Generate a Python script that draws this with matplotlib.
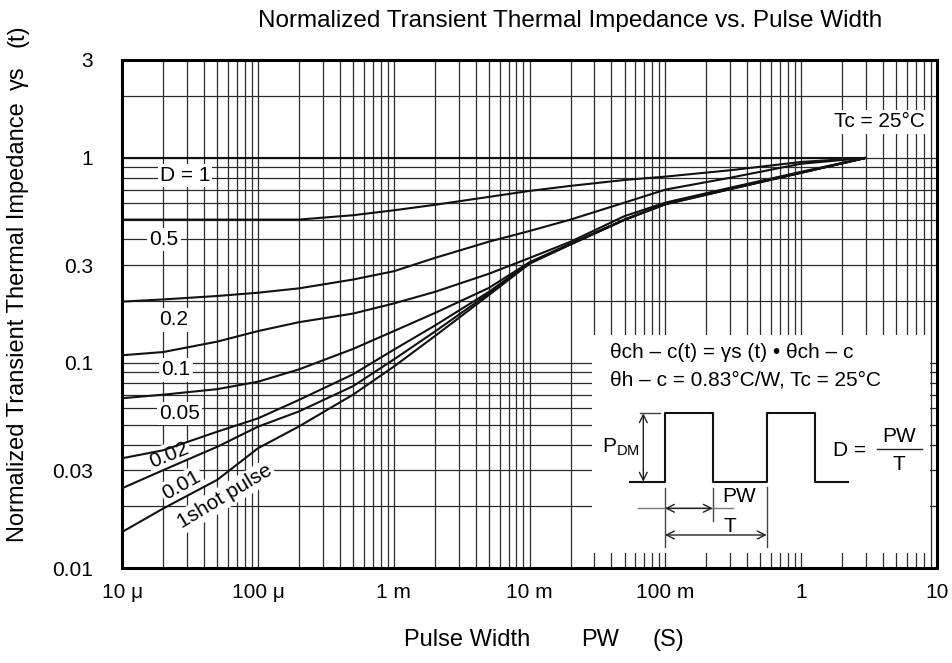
import matplotlib
matplotlib.use("Agg")
from matplotlib import pyplot as plt
from matplotlib.ticker import FixedLocator, NullFormatter

plt.rcParams['font.family'] = ['Liberation Sans', 'DejaVu Sans']
plt.rcParams['mathtext.fontset'] = 'custom'
plt.rcParams['mathtext.rm'] = 'Liberation Sans'

pulse_width = [1e-5, 2e-5, 5e-5, 1e-4, 2e-4, 5e-4, 1e-3, 2e-3, 5e-3,
               1e-2, 2e-2, 5e-2, 1e-1, 3e-1, 1, 3]

# normalized transient thermal impedance for each duty cycle
r_d1 = [1, 1, 1, 1, 1, 1, 1, 1, 1, 1, 1, 1, 1, 1, 1, 1]
r_d05 = [0.5, 0.5, 0.5, 0.5, 0.5, 0.525, 0.555, 0.59, 0.645,
         0.69, 0.73, 0.78, 0.81, 0.87, 0.955, 1.0]
r_d02 = [0.199, 0.204, 0.212, 0.22, 0.231, 0.255, 0.28, 0.325, 0.39,
         0.44, 0.50, 0.605, 0.70, 0.80, 0.936, 1.0]
r_d01 = [0.109, 0.113, 0.127, 0.143, 0.158, 0.174, 0.195, 0.222, 0.272,
         0.325, 0.39, 0.52, 0.605, 0.715, 0.855, 1.0]
r_d005 = [0.0673, 0.070, 0.0745, 0.081, 0.093, 0.117, 0.143, 0.175, 0.232,
          0.31, 0.382, 0.50, 0.60, 0.71, 0.85, 1.0]
r_d002 = [0.0343, 0.0375, 0.0462, 0.0537, 0.066, 0.088, 0.116, 0.152, 0.222,
          0.308, 0.38, 0.50, 0.597, 0.707, 0.848, 1.0]
r_d001 = [0.0245, 0.030, 0.039, 0.0489, 0.058, 0.077, 0.104, 0.142, 0.218,
          0.306, 0.379, 0.499, 0.595, 0.705, 0.846, 1.0]
r_single = [0.015, 0.0195, 0.0269, 0.0384, 0.049, 0.070, 0.096, 0.135, 0.214,
            0.305, 0.378, 0.498, 0.593, 0.703, 0.845, 1.0]

curves = [r_d1, r_d05, r_d02, r_d01, r_d005, r_d002, r_d001, r_single]

x_ticks = [1e-5, 1e-4, 1e-3, 1e-2, 1e-1, 1, 10]
x_tick_labels = ['10 \u03bc', '100 \u03bc', '1 m', '10 m', '100 m', '1', '10']
y_ticks = [0.01, 0.03, 0.1, 0.3, 1, 3]
y_tick_labels = ['0.01', '0.03', '0.1', '0.3', '1', '3']

W, H = 953, 663
fig = plt.figure(figsize=(W / 100, H / 100), dpi=100)
ax = fig.add_axes([122.3 / W, 1 - 568 / H, 814.7 / W, 508 / H])
ax.set_xscale('log')
ax.set_yscale('log')
ax.set_xlim(1e-5, 10)
ax.set_ylim(0.01, 3)

ax.xaxis.set_major_locator(FixedLocator(x_ticks))
ax.set_xticklabels(x_tick_labels)
ax.yaxis.set_major_locator(FixedLocator(y_ticks))
ax.set_yticklabels(y_tick_labels)
ax.yaxis.set_minor_locator(FixedLocator(
    [k * 10.0 ** e for e in (-2, -1, 0) for k in range(2, 10)]))
ax.xaxis.set_minor_formatter(NullFormatter())
ax.yaxis.set_minor_formatter(NullFormatter())
ax.tick_params(which='both', length=0, labelsize=15)
ax.tick_params(axis='x', pad=11)
ax.tick_params(axis='y', pad=21)
ax.grid(which='both', color='#2a2a2a', lw=0.9)
ax.set_axisbelow(True)
for s in ax.spines.values():
    s.set_linewidth(2.2)

for r in curves:
    ax.plot(pulse_width, r, color='#111', lw=1.5, zorder=4, solid_capstyle='butt')

# curve labels with white boxes over the grid
box = dict(facecolor='white', edgecolor='none', pad=1.5)
ax.text(2.9e-5, 0.817, 'D = 1', fontsize=15, ha='center', va='center', bbox=box, zorder=3)
ax.text(2.03e-5, 0.398, '0.5', fontsize=15, ha='center', va='center', bbox=box, zorder=3)
ax.text(2.4e-5, 0.162, '0.2', fontsize=15, ha='center', va='center', bbox=box, zorder=3)
ax.text(2.49e-5, 0.0924, '0.1', fontsize=15, ha='center', va='center', bbox=box, zorder=3)
ax.text(2.62e-5, 0.0568, '0.05', fontsize=15, ha='center', va='center', bbox=box, zorder=3)
ax.text(2.2e-5, 0.0356, '0.02', fontsize=15, ha='center', va='center', rotation=22,
        bbox=box, zorder=3)
ax.text(2.74e-5, 0.0254, '0.01', fontsize=15, ha='center', va='center', rotation=29,
        bbox=box, zorder=3)
ax.text(5.7e-5, 0.0223, '1shot pulse', fontsize=15, ha='center', va='center', rotation=31,
        bbox=box, zorder=3)
ax.text(0.985, 0.878, 'Tc = 25\u00b0C', fontsize=15, ha='right', va='center',
        transform=ax.transAxes, bbox=box, zorder=3)

# title and axis titles
fig.text(570 / W, 1 - 21 / H, 'Normalized Transient Thermal Impedance vs. Pulse Width',
         fontsize=17.5, ha='center', va='center')
fig.text(467 / W, 1 - 640 / H, 'Pulse Width', fontsize=17, ha='center', va='center')
fig.text(600 / W, 1 - 640 / H, 'PW', fontsize=17, ha='center', va='center')
fig.text(668 / W, 1 - 640 / H, '(S)', fontsize=17, ha='center', va='center')
fig.text(18 / W, 1 - 322 / H, 'Normalized Transient Thermal Impedance',
         fontsize=17, ha='center', va='center', rotation=90)
fig.text(18 / W, 1 - 78 / H, '\u03b3s', fontsize=17, ha='center', va='center', rotation=90)
fig.text(18 / W, 1 - 36 / H, '(t)', fontsize=17, ha='center', va='center', rotation=90)

# inset: pulse diagram on white background (local pixel units, y down)
ins = fig.add_axes([592 / W, 1 - 553 / H, 338 / W, 218 / H])
ins.set_facecolor('white')
ins.set_xlim(0, 338)
ins.set_ylim(218, 0)
ins.set_xticks([])
ins.set_yticks([])
for s in ins.spines.values():
    s.set_visible(False)

ins.text(18, 17, '\u03b8ch \u2013 c(t) = \u03b3s (t) \u2022 \u03b8ch \u2013 c', fontsize=15,
         ha='left', va='center')
ins.text(18, 45, '\u03b8h \u2013 c = 0.83\u00b0C/W, Tc = 25\u00b0C', fontsize=15,
         ha='left', va='center')

pulse_x = [38, 73, 73, 120.7, 120.7, 174.7, 174.7, 223, 223, 256.3]
pulse_y = [146.7, 146.7, 78.3, 78.3, 146.7, 146.7, 78.3, 78.3, 146.7, 146.7]
ins.plot(pulse_x, pulse_y, color='#111', lw=1.5)

thin = dict(color='#444', lw=1.0)
ins.plot([48, 68], [78.3, 78.3], **thin)
ins.plot([73, 73], [153, 212], **thin)
ins.plot([120.7, 120.7], [153, 186], **thin)
ins.plot([174.7, 174.7], [152, 212], **thin)
ins.plot([46, 141], [173.3, 173.3], color='#777', lw=1.0)
arrow = dict(arrowstyle='<->', lw=1.0, color='#222', shrinkA=0, shrinkB=0,
             mutation_scale=14)
ins.annotate('', xy=(51.3, 78.3), xytext=(51.3, 146.7), arrowprops=arrow)
ins.annotate('', xy=(73, 173.3), xytext=(120.7, 173.3), arrowprops=arrow)
ins.annotate('', xy=(73, 200), xytext=(174.7, 200), arrowprops=arrow)

ins.text(29, 112, r'P$_{\mathregular{DM}}$', fontsize=15, ha='center', va='center')
ins.text(130, 162, 'PW', fontsize=15, ha='left', va='center')
ins.text(138, 192, 'T', fontsize=15, ha='center', va='center')
ins.text(258, 115, 'D =', fontsize=15, ha='center', va='center')
ins.text(307, 101, 'PW', fontsize=15, ha='center', va='center')
ins.plot([284.7, 329.7], [114, 114], color='#222', lw=1.0)
ins.text(307, 129, 'T', fontsize=15, ha='center', va='center')

fig.savefig('out.png', dpi=100)
